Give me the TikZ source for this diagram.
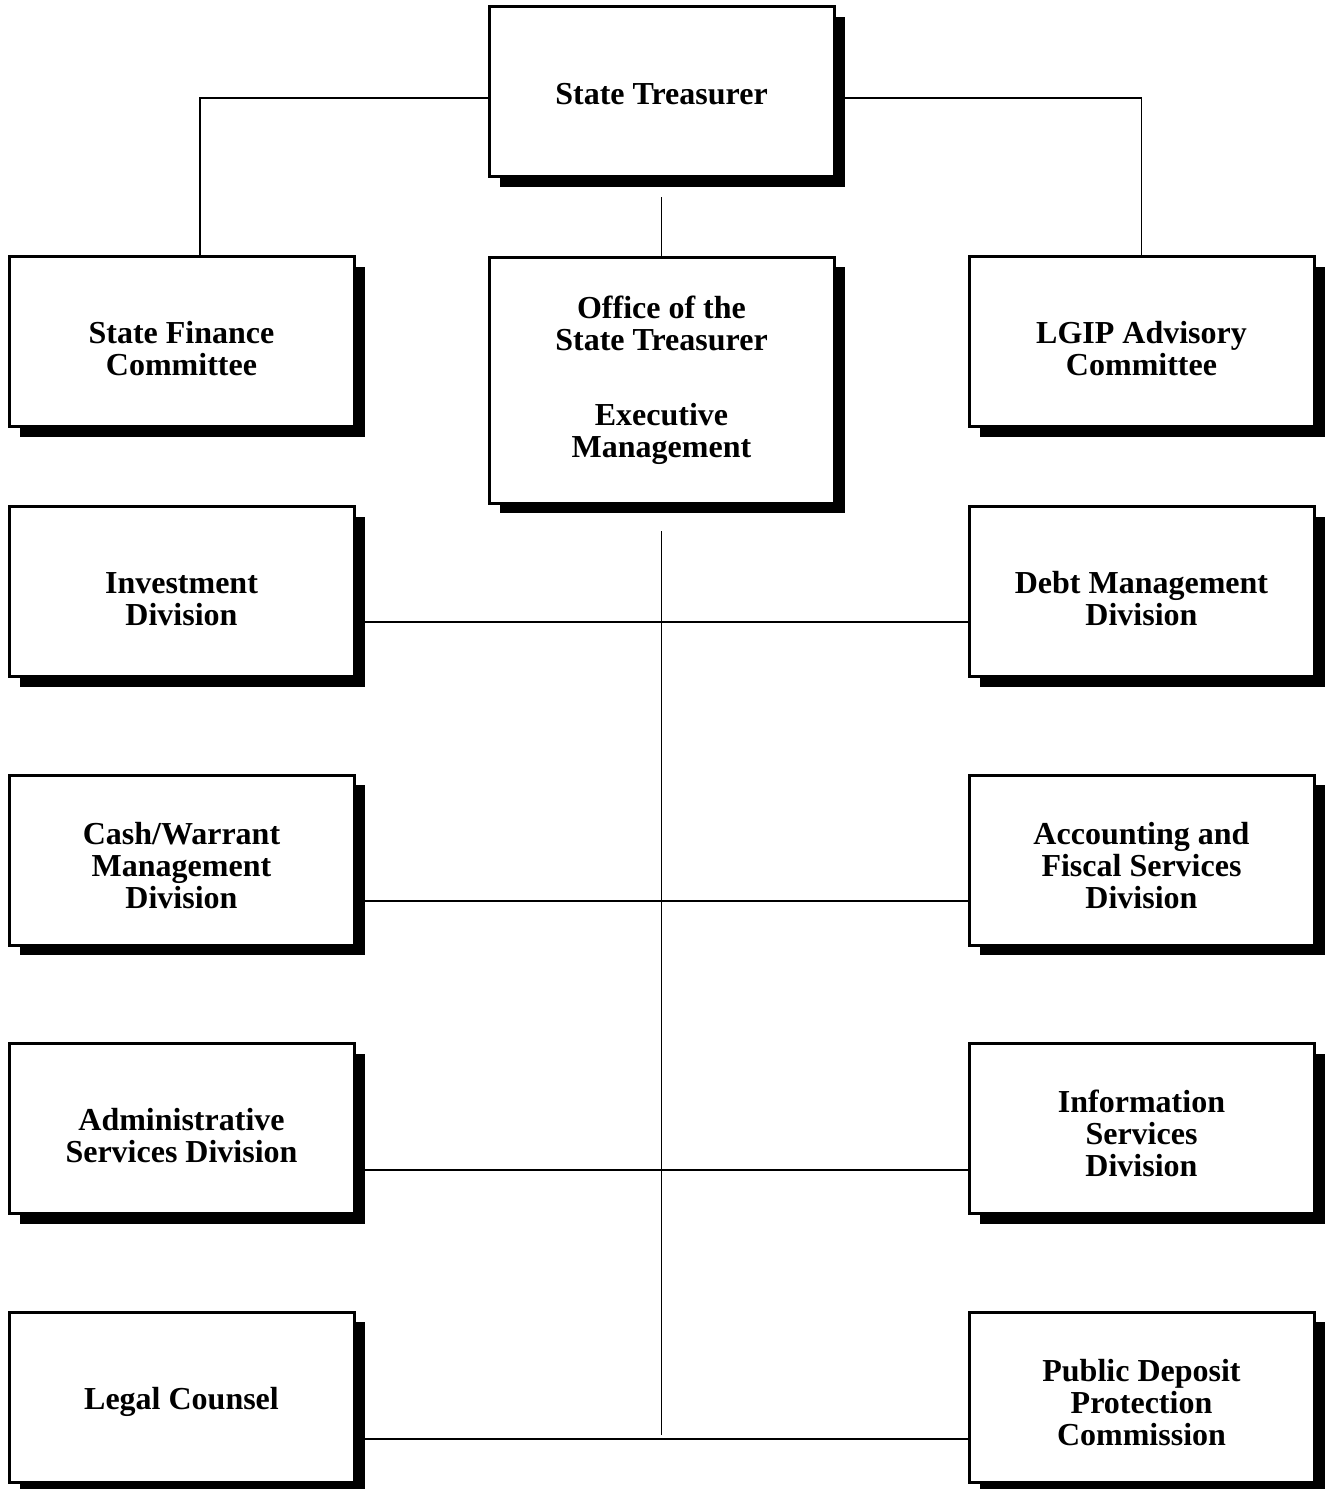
\documentclass[tikz,border=0pt]{standalone}
\usepackage{fontspec}
\setmainfont{Liberation Serif}
\usetikzlibrary{shadows}
\newcommand{\lift}[1]{\rule{0pt}{#1}}
\begin{document}
\begin{tikzpicture}[x=1pt, y=-1pt,
	unit/.style={draw, fill=white, line width=3pt, minimum width=345pt, minimum height=170pt,
		align=center, font=\bfseries\fontsize{32}{32}\selectfont,
		drop shadow={shadow xshift=11pt, shadow yshift=-10pt, fill=black, opacity=1}},
	link/.style={line width=1.8pt}]
	\useasboundingbox (0,0) rectangle (1329,1489);

	\node[unit] (treasurer) at (661.5,91.5) {\lift{26pt}State Treasurer};
	\node[unit] (finance) at (181.5,341.5) {\lift{36pt}State Finance\\Committee};
	\node[unit, minimum height=246pt] (office) at (661.5,380) {Office of the\\State Treasurer\\[43pt]Executive\\Management};
	\node[unit] (lgip) at (1141.5,341.5) {\lift{36pt}LGIP Advisory\\Committee};

	\node[unit] (invest) at (181.5,591.5) {\lift{36pt}Investment\\Division};
	\node[unit] (debt) at (1141.5,591.5) {\lift{36pt}Debt Management\\Division};
	\node[unit] (cash) at (181.5,860) {\lift{34pt}Cash/Warrant\\Management\\Division};
	\node[unit] (acct) at (1141.5,860) {\lift{34pt}Accounting and\\Fiscal Services\\Division};
	\node[unit] (admin) at (181.5,1128.5) {\lift{36pt}Administrative\\Services Division};
	\node[unit] (info) at (1141.5,1128.5) {\lift{32pt}Information\\Services\\Division};
	\node[unit] (legal) at (181.5,1397) {\lift{32pt}Legal Counsel};
	\node[unit] (pdpc) at (1141.5,1397) {\lift{34pt}Public Deposit\\Protection\\Commission};

	\draw[link] ([yshift=-6.5pt]treasurer.west) -| ([xshift=18.5pt]finance.north);
	\draw[link] ([yshift=-6.5pt]treasurer.east) -| (lgip.north);
	\draw[link] ([yshift=-19pt]treasurer.south) -- (office.north);

	\coordinate (spine) at (661.5,1435);
	\draw[link] ([yshift=-26.5pt]office.south) -- (spine);

	\draw[link] ([yshift=-30.5pt]invest.east) -- ([yshift=-30.5pt]debt.west);
	\draw[link] ([yshift=-41pt]cash.east) -- ([yshift=-41pt]acct.west);
	\draw[link] ([yshift=-41.5pt]admin.east) -- ([yshift=-41.5pt]info.west);
	\draw[link] ([yshift=-42pt]legal.east) -- ([yshift=-42pt]pdpc.west);
\end{tikzpicture}
\end{document}
